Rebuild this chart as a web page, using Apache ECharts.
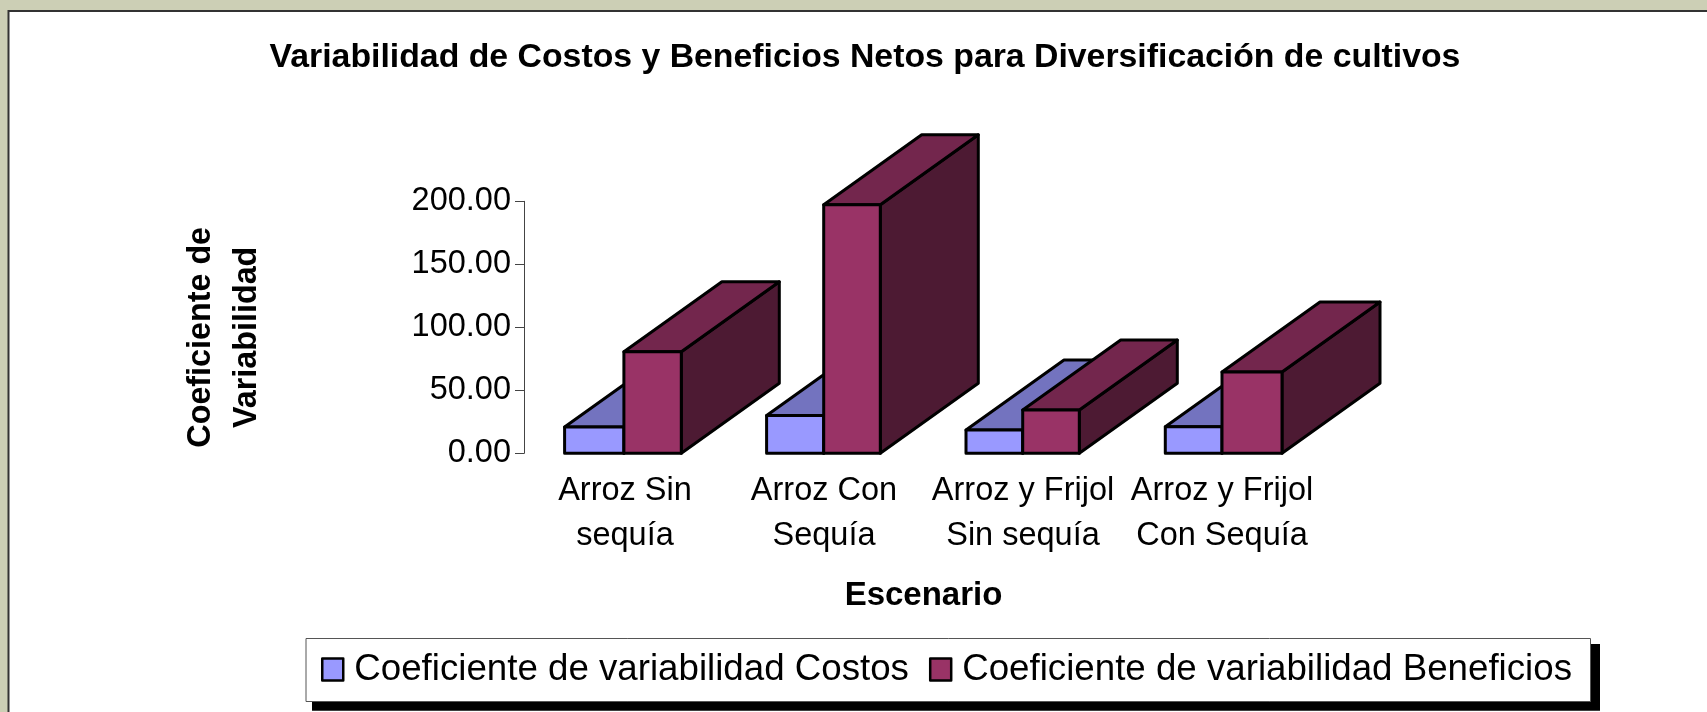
<!DOCTYPE html>
<html>
<head>
<meta charset="utf-8">
<title>Variabilidad</title>
<script src="https://cdn.jsdelivr.net/npm/echarts@6/dist/echarts.min.js"></script>
<style>
html,body{margin:0;padding:0;background:#cccfb5;}
#main{width:1707px;height:712px;}
</style>
</head>
<body>
<div id="main"></div>
<script>
var titleText = "Variabilidad de Costos y Beneficios Netos para Diversificación de cultivos";
var categories = ["Arroz Sin\nsequía", "Arroz Con\nSequía", "Arroz y Frijol\nSin sequía", "Arroz y Frijol\nCon Sequía"];
var costos = [20.9, 30, 18.5, 21];
var beneficios = [80.6, 197.3, 34.4, 64.5];
var serieCostos = "Coeficiente de variabilidad Costos";
var serieBeneficios = "Coeficiente de variabilidad Beneficios";

// x offsets from the band centre (px): cost left, benefit left, benefit right
var barOffsets = [[-60.4, -1.1, 56.3], [-57.4, -0.3, 56.3], [-57, -0.3, 56.3], [-56.7, 0, 60]];
var barDepthX = 98;
var barDepthY = 70;

var fontName = '"Liberation Sans", Arial, sans-serif';

function box(x0, x1, y0, y1, front, top, side) {
    var dx = barDepthX, dy = barDepthY;
    var st = function (c) {
        return { fill: c, stroke: '#000', lineWidth: 3, lineJoin: 'round' };
    };
    return [
        { type: 'polygon', shape: { points: [[x1, y1], [x1 + dx, y1 - dy], [x1 + dx, y0 - dy], [x1, y0]] }, style: st(side) },
        { type: 'polygon', shape: { points: [[x0, y0], [x0 + dx, y0 - dy], [x1 + dx, y0 - dy], [x1, y0]] }, style: st(top) },
        { type: 'rect', shape: { x: x0, y: y0, width: x1 - x0, height: y1 - y0 }, style: st(front) }
    ];
}

function drawCost(params, api) {
    var i = api.value(0);
    var c = api.coord([i, api.value(1)]);
    var b = api.coord([i, 0]);
    var o = barOffsets[i];
    return { type: 'group', children: box(b[0] + o[0], b[0] + o[1], c[1], b[1], '#9999ff', '#7373bf', '#4d4d80') };
}

function drawBenefit(params, api) {
    var i = api.value(0);
    var c = api.coord([i, api.value(1)]);
    var b = api.coord([i, 0]);
    var o = barOffsets[i];
    return { type: 'group', children: box(b[0] + o[1], b[0] + o[2], c[1], b[1], '#993366', '#73264d', '#4d1a33') };
}

var myChart = echarts.init(document.getElementById('main'), null, { renderer: 'canvas' });

var option = {
    backgroundColor: 'transparent',
    animation: false,
    title: {
        text: titleText,
        left: 860,
        textAlign: 'center',
        top: 36,
        textStyle: { fontFamily: fontName, fontWeight: 'bold', fontSize: 33.8, color: '#000' }
    },
    grid: { left: 525.5, width: 796, top: 201.3, height: 252 },
    xAxis: {
        type: 'category',
        data: categories,
        name: 'Escenario',
        nameLocation: 'middle',
        nameGap: 126,
        nameTextStyle: { fontFamily: fontName, fontWeight: 'bold', fontSize: 33, color: '#000' },
        axisLine: { show: false },
        axisTick: { show: false },
        axisLabel: { interval: 0, fontFamily: fontName, fontSize: 32.5, lineHeight: 45, color: '#000', margin: 15 }
    },
    yAxis: {
        type: 'value',
        min: 0,
        max: 200,
        interval: 50,
        offset: 1.5,
        name: 'Coeficiente de\nVariabilidad',
        nameLocation: 'middle',
        nameGap: 254,
        nameRotate: 90,
        nameTextStyle: { fontFamily: fontName, fontWeight: 'bold', fontSize: 32.3, lineHeight: 46, color: '#000', padding: [0, 20, 0, 0] },
        splitLine: { show: false },
        axisLine: { show: true, lineStyle: { color: '#444', width: 1 } },
        axisTick: { show: true, length: 9, lineStyle: { color: '#444', width: 1 } },
        axisLabel: { fontFamily: fontName, fontSize: 32.5, color: '#000', margin: 13, formatter: function (v) { return v.toFixed(2); } }
    },
    legend: {
        left: 321,
        top: 651,
        orient: 'horizontal',
        padding: 0,
        itemGap: 20,
        itemWidth: 21,
        itemHeight: 22,
        textStyle: { fontFamily: fontName, fontSize: 36.7, color: '#000', padding: [0, 0, 0, 6] },
        data: [
            { name: serieCostos, icon: 'rect', itemStyle: { color: '#9999ff', borderColor: '#000', borderWidth: 2.5, borderJoin: 'round' } },
            { name: serieBeneficios, icon: 'rect', itemStyle: { color: '#993366', borderColor: '#000', borderWidth: 2.5, borderJoin: 'round' } }
        ]
    },
    graphic: [
        {
            type: 'rect', z: -10, silent: true,
            shape: { x: 8.5, y: 11, width: 1720, height: 720 },
            style: { fill: '#fff', stroke: '#333', lineWidth: 2 }
        },
        {
            type: 'rect', z: -9, silent: true,
            shape: { x: 312, y: 644, width: 1288, height: 66.7 },
            style: { fill: '#000' }
        },
        {
            type: 'rect', z: -8, silent: true,
            shape: { x: 306, y: 638.5, width: 1284.5, height: 63 },
            style: { fill: '#fff', stroke: '#555', lineWidth: 1 }
        }
    ],
    series: [
        {
            name: serieCostos,
            type: 'custom',
            z: 2,
            renderItem: drawCost,
            encode: { x: 0, y: 1 },
            data: costos.map(function (v, i) { return [i, v]; })
        },
        {
            name: serieBeneficios,
            type: 'custom',
            z: 3,
            renderItem: drawBenefit,
            encode: { x: 0, y: 1 },
            data: beneficios.map(function (v, i) { return [i, v]; })
        }
    ]
};
myChart.setOption(option);
</script>
</body>
</html>
